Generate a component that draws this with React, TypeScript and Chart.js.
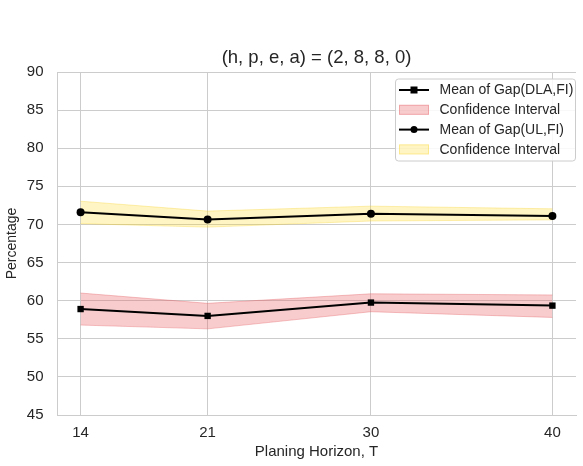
import React, { useEffect, useRef } from "react";
import { Chart, registerables } from "chart.js";

Chart.register(...registerables);

// Planning horizons on the x axis
const horizons = [14, 21, 30, 40];
const xTicks = [14, 21, 30, 40];
const yTicks = [45, 50, 55, 60, 65, 70, 75, 80, 85, 90];

// Gap between DLA and FI (percent) with its confidence band
const dlaMean = [58.9, 58.0, 59.75, 59.35];
const dlaUpper = [61.0, 59.65, 60.9, 60.75];
const dlaLower = [56.8, 56.3, 58.55, 57.8];

// Gap between UL and FI (percent) with its confidence band
const ulMean = [71.6, 70.65, 71.4, 71.1];
const ulUpper = [73.05, 71.75, 72.4, 72.05];
const ulLower = [70.1, 69.65, 70.45, 70.6];

const titleText = "(h, p, e, a) = (2, 8, 8, 0)";
const legendLabels = [
  "Mean of Gap(DLA,FI)",
  "Confidence Interval",
  "Mean of Gap(UL,FI)",
  "Confidence Interval",
];

const FONT = "'Liberation Sans', Arial, sans-serif";
const TEXT = "#262626";
const GRID = "#cccccc";
const RED_FILL = "rgba(232, 96, 100, 0.32)";
const RED_EDGE = "rgba(225, 90, 95, 0.35)";
const YEL_FILL = "rgba(255, 215, 20, 0.25)";
const YEL_EDGE = "rgba(245, 205, 20, 0.3)";

const pts = (ys: number[]) => horizons.map((x, i) => ({ x, y: ys[i] }));

// Title centred above the plot area
const titlePlugin = {
  id: "axesTitle",
  afterDraw(chart: any) {
    const { ctx, chartArea } = chart;
    ctx.save();
    ctx.font = `18.5px ${FONT}`;
    ctx.fillStyle = TEXT;
    ctx.textAlign = "center";
    ctx.textBaseline = "middle";
    ctx.fillText(titleText, (chartArea.left + chartArea.right) / 2, 58);
    ctx.restore();
  },
};

// Legend box drawn inside the upper right of the plot area
const legendPlugin = {
  id: "innerLegend",
  afterDraw(chart: any) {
    const { ctx, chartArea } = chart;
    const right = chartArea.right - 0.5;
    const boxW = 180;
    const boxH = 82;
    const left = right - boxW;
    const top = chartArea.top + 7;
    ctx.save();
    ctx.beginPath();
    ctx.roundRect(left, top, boxW, boxH, 3);
    ctx.fillStyle = "rgba(255,255,255,0.85)";
    ctx.fill();
    ctx.strokeStyle = GRID;
    ctx.lineWidth = 1;
    ctx.stroke();

    const hx0 = left + 3.5;
    const hx1 = hx0 + 30;
    const hxc = (hx0 + hx1) / 2;
    const textX = hx1 + 10.5;
    ctx.font = `14px ${FONT}`;
    ctx.textBaseline = "middle";
    ctx.textAlign = "left";
    legendLabels.forEach((label, i) => {
      const y = top + 11 + i * 19.8;
      if (i === 0 || i === 2) {
        ctx.strokeStyle = "#000";
        ctx.lineWidth = 2;
        ctx.beginPath();
        ctx.moveTo(hx0, y);
        ctx.lineTo(hx1, y);
        ctx.stroke();
        ctx.fillStyle = "#000";
        if (i === 0) {
          ctx.fillRect(hxc - 3.5, y - 3.5, 7, 7);
        } else {
          ctx.beginPath();
          ctx.arc(hxc, y, 3.5, 0, Math.PI * 2);
          ctx.fill();
        }
      } else {
        ctx.fillStyle = i === 1 ? RED_FILL : YEL_FILL;
        ctx.fillRect(hx0, y - 5, 30, 10);
        ctx.strokeStyle = i === 1 ? RED_EDGE : YEL_EDGE;
        ctx.lineWidth = 1;
        ctx.strokeRect(hx0 + 0.5, y - 4.5, 29, 9);
      }
      ctx.fillStyle = TEXT;
      ctx.fillText(label, textX, y + 0.5);
    });
    ctx.restore();
  },
};

export default function App() {
  const canvasRef = useRef<HTMLCanvasElement | null>(null);

  useEffect(() => {
    const canvas = canvasRef.current;
    if (!canvas) return;
    const bandCommon = {
      pointRadius: 0,
      pointHoverRadius: 0,
      borderWidth: 1,
      tension: 0,
      order: 2,
    };
    const chart = new Chart(canvas, {
      type: "line",
      data: {
        datasets: [
          {
            ...bandCommon,
            label: "dlaUpper",
            data: pts(dlaUpper),
            borderColor: RED_EDGE,
            backgroundColor: RED_FILL,
            fill: "+1",
          },
          {
            ...bandCommon,
            label: "dlaLower",
            data: pts(dlaLower),
            borderColor: RED_EDGE,
            backgroundColor: RED_FILL,
            fill: false,
          },
          {
            ...bandCommon,
            label: "ulUpper",
            data: pts(ulUpper),
            borderColor: YEL_EDGE,
            backgroundColor: YEL_FILL,
            fill: "+1",
          },
          {
            ...bandCommon,
            label: "ulLower",
            data: pts(ulLower),
            borderColor: YEL_EDGE,
            backgroundColor: YEL_FILL,
            fill: false,
          },
          {
            label: legendLabels[0],
            data: pts(dlaMean),
            borderColor: "#000",
            backgroundColor: "#000",
            borderWidth: 2,
            pointStyle: "rect",
            pointRadius: 4.5,
            pointBorderWidth: 0,
            fill: false,
            order: 0,
          },
          {
            label: legendLabels[2],
            data: pts(ulMean),
            borderColor: "#000",
            backgroundColor: "#000",
            borderWidth: 2,
            pointStyle: "circle",
            pointRadius: 4,
            pointBorderWidth: 0,
            fill: false,
            order: 0,
          },
        ],
      },
      options: {
        animation: false,
        responsive: false,
        maintainAspectRatio: false,
        layout: { padding: { top: 72, right: 7, left: 0, bottom: 0 } },
        plugins: {
          legend: { display: false },
          title: { display: false },
          tooltip: { enabled: false },
        },
        scales: {
          x: {
            type: "linear",
            min: 12.7,
            max: 41.3,
            afterBuildTicks: (scale: any) => {
              scale.ticks = xTicks.map((v) => ({ value: v }));
            },
            afterFit: (scale: any) => {
              scale.height = 51;
            },
            grid: { color: GRID, lineWidth: 1, drawTicks: false },
            border: { display: true, color: GRID, width: 1 },
            ticks: {
              color: TEXT,
              font: { family: FONT, size: 15 },
              padding: 9,
              maxRotation: 0,
              callback: (v: any) => String(v),
            },
            title: {
              display: true,
              text: "Planing Horizon, T",
              color: TEXT,
              font: { family: FONT, size: 15 },
              padding: { top: 0, bottom: 5 },
            },
          },
          y: {
            min: 45,
            max: 90,
            afterBuildTicks: (scale: any) => {
              scale.ticks = yTicks.map((v) => ({ value: v }));
            },
            afterFit: (scale: any) => {
              scale.width = 57;
            },
            grid: { color: GRID, lineWidth: 1, drawTicks: false },
            border: { display: true, color: GRID, width: 1 },
            ticks: {
              color: TEXT,
              font: { family: FONT, size: 15 },
              padding: 13.5,
              callback: (v: any) => String(v),
            },
            title: {
              display: true,
              text: "Percentage",
              color: TEXT,
              font: { family: FONT, size: 14 },
              padding: { top: 3.8, bottom: 0 },
            },
          },
        },
      },
      plugins: [titlePlugin, legendPlugin],
    });
    return () => chart.destroy();
  }, []);

  return (
    <div style={{ position: "fixed", left: 0, top: 0, width: 583, height: 466, background: "#fff" }}>
      <canvas ref={canvasRef} width={583} height={466} style={{ display: "block" }} />
    </div>
  );
}
